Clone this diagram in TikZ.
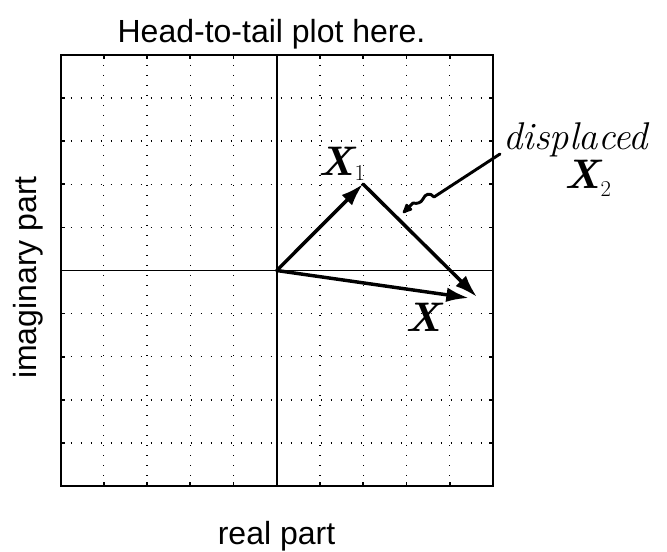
\documentclass[tikz,border=0pt]{standalone}
\usepackage{fontspec}
\newfontfamily\lsans{Liberation Sans}
\usetikzlibrary{arrows.meta}
\newcommand{\handsubfont}{\mdseries\upshape\fontsize{17}{20}\selectfont}
\begin{document}
\begin{tikzpicture}[x=0.75pt,y=-0.75pt,
  gridline/.style={line width=1.1pt, dash pattern=on 1.1pt off 6.4pt},
  frame/.style={line width=1.5pt},
  axisline/.style={line width=1.2pt},
  tick/.style={line width=1.2pt},
  vec/.style={line width=2.6pt, line cap=round, -{Latex[length=17pt,width=11pt]}},
  lab/.style={font=\lsans\fontsize{24}{28}\selectfont, inner sep=0pt},
  ttl/.style={font=\lsans\fontsize{24}{28}\selectfont, inner sep=0pt},
  hand/.style={inner sep=0pt, font=\bfseries\itshape\fontsize{31}{34}\selectfont},
  script/.style={inner sep=0pt, font=\itshape\fontsize{29}{32}\selectfont},
  leader/.style={line width=2.2pt, line cap=round, line join=round, -{Latex[length=10pt,width=8pt,round]}}
]
\useasboundingbox (0,0) rectangle (667,552);
\fill[white] (0,0) rectangle (667,552);
% dotted grid
\foreach \k in {1,...,9} {
  \draw[gridline] ({60.5+43.25*\k},55) -- ({60.5+43.25*\k},486);
  \draw[gridline] (60.5,{55+43.1*\k}) -- (493,{55+43.1*\k});
  \draw[tick] ({60.5+43.25*\k},55) -- ({60.5+43.25*\k},59);
  \draw[tick] ({60.5+43.25*\k},486) -- ({60.5+43.25*\k},482);
  \draw[tick] (60.5,{55+43.1*\k}) -- (64.5,{55+43.1*\k});
  \draw[tick] (493,{55+43.1*\k}) -- (489,{55+43.1*\k});
}
% axes
\draw[axisline] (276.75,55) -- (276.75,486);
\draw[axisline] (60.5,270.5) -- (493,270.5);
% frame
\draw[frame] (60.5,55) rectangle (493,486);
% texts
\node[ttl] (title) at (271.5,34) {Head-to-tail plot here.};
\node[lab] (xlab) at (276.5,536) {real part};
\node[lab, rotate=90] (ylab) at (28.5,277.5) {imaginary part};
% vectors
\coordinate (O) at (276.75,270.5);
\coordinate (A) at (363,184);
\coordinate (B) at (477,297);
\coordinate (C) at (469,298);
\draw[vec] (O) -- (A);
\draw[vec] (A) -- (B);
\draw[vec] (O) -- (C);
% handwritten labels
\node[hand] (x1) at (342,164) {X\raisebox{-4pt}{\handsubfont 1}};
\node[hand] (xx) at (423,317) {X};
\node[script, anchor=base west] (disp) at (503,150) {displaced};
\node[hand] (x2) at (588,178) {X\raisebox{-6pt}{\handsubfont 2}};
% leader
\coordinate (ptr) at (403,213);
\draw[leader] ([shift={(-3,4)}]disp.base west) -- (434,197)
  .. controls (430,192) and (425,194) .. (423,199)
  .. controls (421,203) and (417,204) .. (413,203) -- (ptr);
\end{tikzpicture}
\end{document}
